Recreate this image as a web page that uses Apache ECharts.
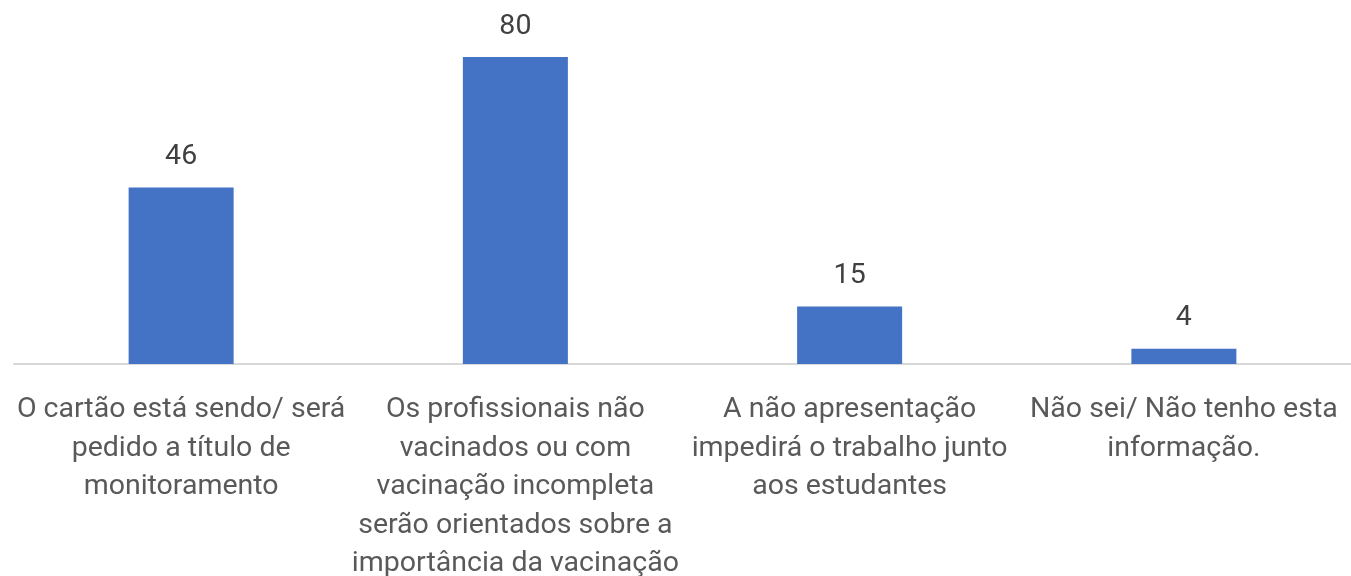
<!DOCTYPE html>
<html>
<head>
<meta charset="utf-8">
<script src="https://cdn.jsdelivr.net/npm/echarts@6/dist/echarts.min.js"></script>
<style>
  html, body { margin: 0; padding: 0; background: #fff; overflow: hidden; }
  #chart { width: 1351px; height: 576px; }
</style>
</head>
<body>
<div id="chart"></div>
<script>
// categorias (rótulos do eixo x, já quebrados em linhas como no original)
const categories = [
  "O cartão está sendo/ será\npedido a título de\nmonitoramento",
  "Os profissionais não\nvacinados ou com\nvacinação incompleta\nserão orientados sobre a\nimportância da vacinação",
  "A não apresentação\nimpedirá o trabalho junto\naos estudantes",
  "Não sei/ Não tenho esta\ninformação."
];
const values = [46, 80, 15, 4];

const chart = echarts.init(document.getElementById("chart"));
const option = {
  animation: false,
  grid: {
    left: 14,
    right: 0,
    top: 57,
    height: 307,
    containLabel: false,
    outerBoundsMode: "none", // não encolher a grade por causa dos rótulos
  },
  xAxis: {
    type: "category",
    data: categories,
    axisTick: { show: false },
    axisLine: { lineStyle: { color: "#d9d9d9", width: 2 } },
    axisLabel: {
      interval: 0,
      margin: 27,
      color: "#595959",
      fontSize: 28.5,
      lineHeight: 38.5,
      fontFamily: "Roboto, sans-serif",
    },
  },
  yAxis: {
    type: "value",
    min: 0,
    max: 80,
    show: false,
    splitLine: { show: false },
  },
  series: [
    {
      type: "bar",
      data: values,
      barWidth: 105,
      itemStyle: { color: "#4472C4" },
      label: {
        show: true,
        position: "top",
        distance: 16,
        color: "#404040",
        fontSize: 28.5,
        fontFamily: "Roboto, sans-serif",
      },
    },
  ],
};
chart.setOption(option);
</script>
</body>
</html>
